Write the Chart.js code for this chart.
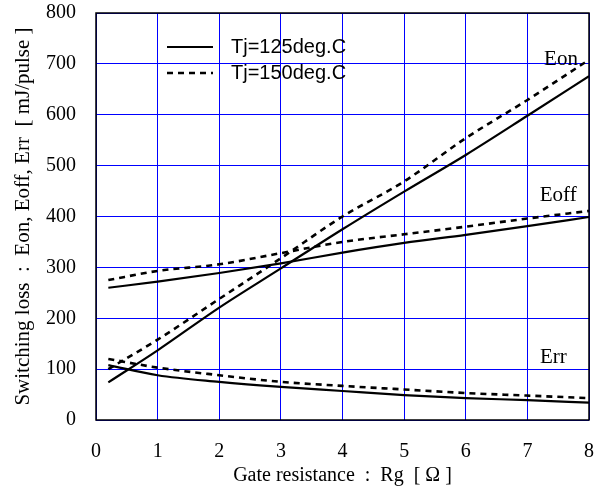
<!DOCTYPE html>
<html>
<head>
<meta charset="utf-8">
<script src="https://cdn.jsdelivr.net/npm/chart.js@4/dist/chart.umd.min.js"></script>
<style>
  html, body { margin: 0; padding: 0; background: #fff; }
  #wrap { width: 600px; height: 490px; }
</style>
</head>
<body>
<div id="wrap"><canvas id="c" width="600" height="490"></canvas></div>
<script>
// ---- data ----
const rg = [0.2, 1, 2, 3, 4, 5, 6, 7, 8];
const eon125  = [74, 137, 221, 298, 375, 449, 521, 598, 676];
const eon150  = [100, 158, 238, 318, 400, 469, 554, 629, 708];
const eoff125 = [260, 272, 289, 308, 329, 348, 364, 381, 399];
const eoff150 = [275, 293, 306, 328, 350, 365, 380, 396, 411];
const err125  = [108, 88, 75, 65, 57, 49, 43, 39, 34];
const err150  = [120, 103, 88, 75, 67, 60, 53, 48, 43];
const legendLabels = ["Tj=125deg.C", "Tj=150deg.C"];
const curveNames = ["Eon", "Eoff", "Err"];
const curveLabelX = [7.82, 7.8, 7.64];
const curveLabelY = [708, 442, 123];
const xTitle = "Gate resistance  :  Rg  [ Ω ]";
const yTitle = "Switching loss  :  Eon, Eoff, Err  [ mJ/pulse ]";

const serif = "'Liberation Serif', 'Times New Roman', serif";
const sans = "'Liberation Sans', Arial, sans-serif";

function pts(ys) { return rg.map((x, i) => ({ x: x, y: ys[i] })); }
function solid(ys, lbl) {
  return { label: lbl, data: pts(ys), borderColor: '#000', borderWidth: 2.2, pointRadius: 0,
           fill: false, cubicInterpolationMode: 'monotone' };
}
function dashed(ys, lbl) {
  return { label: lbl, data: pts(ys), borderColor: '#000', borderWidth: 2.6, borderDash: [6, 5],
           pointRadius: 0, fill: false, cubicInterpolationMode: 'monotone' };
}

const overlay = {
  id: 'overlay',
  afterDatasetsDraw(chart) {
    const ctx = chart.ctx, a = chart.chartArea;
    const xs = chart.scales.x, ys = chart.scales.y;
    ctx.save();
    // frame
    ctx.strokeStyle = '#000';
    ctx.lineWidth = 1.5;
    ctx.strokeRect(a.left, a.top, a.right - a.left, a.bottom - a.top);
    // legend
    ctx.font = '20px ' + sans;
    ctx.fillStyle = '#000';
    ctx.textBaseline = 'middle';
    ctx.textAlign = 'left';
    const rows = [a.top + 34, a.top + 60];
    rows.forEach((yy, i) => {
      ctx.beginPath();
      ctx.lineWidth = i === 0 ? 2.2 : 2.6;
      ctx.setLineDash(i === 0 ? [] : [6, 5]);
      ctx.moveTo(a.left + 71, yy);
      ctx.lineTo(a.left + 117, yy);
      ctx.stroke();
      ctx.setLineDash([]);
      ctx.fillText(legendLabels[i], a.left + 135, yy);
    });
    // curve labels
    ctx.font = '21px ' + serif;
    ctx.textAlign = 'right';
    curveNames.forEach((n, i) => {
      ctx.fillText(n, xs.getPixelForValue(curveLabelX[i]), ys.getPixelForValue(curveLabelY[i]));
    });
    ctx.restore();
  }
};

new Chart(document.getElementById('c'), {
  type: 'line',
  data: {
    datasets: [
      solid(eon125, 'Eon 125'), dashed(eon150, 'Eon 150'),
      solid(eoff125, 'Eoff 125'), dashed(eoff150, 'Eoff 150'),
      solid(err125, 'Err 125'), dashed(err150, 'Err 150')
    ]
  },
  options: {
    responsive: false,
    animation: false,
    layout: { padding: { left: 0, right: 11, top: 13, bottom: 0 } },
    plugins: { legend: { display: false }, tooltip: { enabled: false } },
    scales: {
      x: {
        type: 'linear', min: 0, max: 8,
        afterFit(s) { s.height = 70; s.paddingRight = 0; s.paddingLeft = 0; },
        ticks: { stepSize: 1, padding: 20, color: '#000', font: { family: serif, size: 20 } },
        grid: { color: '#0000ff', lineWidth: 1, drawTicks: false },
        border: { display: false },
        title: { display: true, text: xTitle, color: '#000', font: { family: serif, size: 20 }, padding: { top: 2, bottom: 2 } }
      },
      y: {
        type: 'linear', min: 0, max: 800,
        afterFit(s) { s.width = 96; s.paddingTop = 0; s.paddingBottom = 0; },
        ticks: { stepSize: 100, padding: 20, color: '#000', font: { family: serif, size: 20 } },
        grid: { color: '#0000ff', lineWidth: 1, drawTicks: false },
        border: { display: false },
        title: { display: true, text: yTitle, color: '#000', font: { family: serif, size: 21 }, padding: { top: 11, bottom: 0 } }
      }
    }
  },
  plugins: [overlay]
});
</script>
</body>
</html>
